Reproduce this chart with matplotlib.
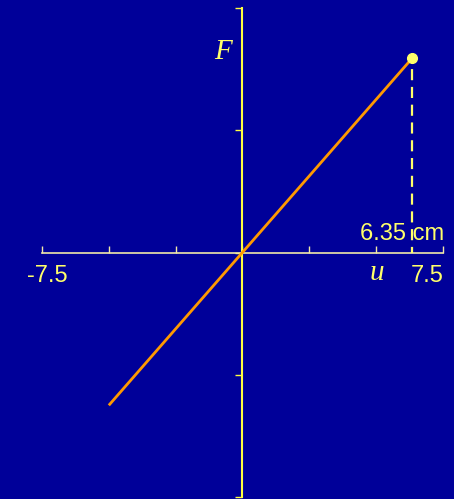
import matplotlib
matplotlib.use("Agg")
import matplotlib.pyplot as plt

# spring force line F = k*u, drawn from u=-5 to the stretched point
u_vals = [-5.0, 6.35]
F_vals = [-1.25, 1.59]
x_ticks = [-7.5, -5, -2.5, 0, 2.5, 5, 7.5]
y_ticks = [-2, -1, 0, 1, 2]
end_label = "6.35 cm"

bg = "#000099"
yellow = "#ffff40"
pale = "#ffff6a"
orange = "#ff9900"

fig = plt.figure(figsize=(4.54, 4.99), dpi=100, facecolor=bg)
ax = fig.add_axes([42 / 454, 2 / 499, 401 / 454, 489 / 499])
ax.set_facecolor(bg)
ax.set_xlim(-7.5, 7.5)
ax.set_ylim(-2, 2)

# axes crossing at the origin
for side in ("top", "right"):
    ax.spines[side].set_visible(False)
ax.spines["left"].set_position(("data", 0))
ax.spines["bottom"].set_position(("data", 0))
ax.spines["left"].set_color(yellow)
ax.spines["bottom"].set_color("#f0e8a8")
ax.spines["left"].set_linewidth(1.5)
ax.spines["bottom"].set_linewidth(1.2)

ax.set_xticks(x_ticks)
ax.set_yticks(y_ticks)
ax.tick_params(axis="x", direction="in", length=5, width=1, color="#f0e8a8",
               labelbottom=False)
ax.tick_params(axis="y", direction="out", length=5, width=1, color=yellow,
               labelleft=False)

# force line and end point
ax.plot(u_vals, F_vals, color=orange, lw=2, solid_capstyle="butt", zorder=3)
ax.plot([u_vals[1], u_vals[1]], [F_vals[1], 0], color=pale, lw=1.6,
        linestyle=(3, (5, 3)), zorder=5)
ax.plot(u_vals[1], F_vals[1], "o", color=pale, ms=7, zorder=6,
        clip_on=False)

font = "Liberation Sans"
ax.text(-7.3, -0.195, "-7.5", color=pale, fontsize=17, family=font,
        ha="center", va="center")
ax.text(6.89, -0.195, "7.5", color=pale, fontsize=17, family=font,
        ha="center", va="center")
ax.text(5.95, 0.155, end_label, color=pale, fontsize=17,
        family=font, ha="center", va="center", zorder=4)

ax.text(5.02, -0.17, "u", color=pale, fontsize=21, family="Liberation Serif",
        style="italic", ha="center", va="center")
ax.text(-0.71, 1.64, "F", color=pale, fontsize=21, family="Liberation Serif",
        style="italic", ha="center", va="center")

fig.savefig("out.png", dpi=100, facecolor=bg)
